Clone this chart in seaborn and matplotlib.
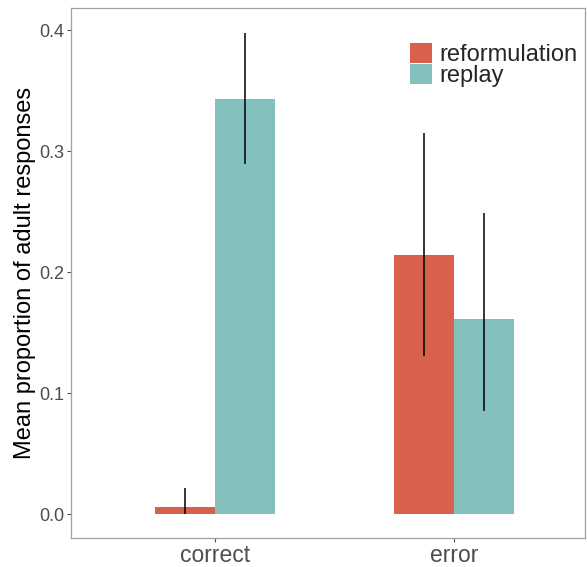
import matplotlib
matplotlib.use("Agg")
import matplotlib.pyplot as plt
import seaborn as sns
import pandas as pd

categories = ["correct", "error"]
series = ["reformulation", "replay"]
reformulation_mean = [0.006, 0.214]
replay_mean = [0.343, 0.161]
reformulation_lo = [0.0, 0.131]
reformulation_hi = [0.0215, 0.315]
replay_lo = [0.289, 0.085]
replay_hi = [0.3975, 0.249]
yticks = [0.0, 0.1, 0.2, 0.3, 0.4]

colors = {"reformulation": "#D8604C", "replay": "#84C0BE"}

sns.set_style("white")
plt.rcParams["font.family"] = ["Liberation Sans", "DejaVu Sans"]

df = pd.DataFrame({
    "category": categories * 2,
    "series": [series[0]] * 2 + [series[1]] * 2,
    "mean": reformulation_mean + replay_mean,
    "lo": reformulation_lo + replay_lo,
    "hi": reformulation_hi + replay_hi,
})

fig = plt.figure(figsize=(5.87, 5.67), dpi=100)
ax = fig.add_axes([71 / 587, 1 - 538 / 567, (585 - 71) / 587, (538 - 8) / 567])

sns.barplot(data=df, x="category", y="mean", hue="series", order=categories,
            hue_order=series, palette=colors, width=0.5, gap=0, errorbar=None,
            saturation=1, ax=ax, linewidth=0)

# error bars at bar centers
for s_i, s in enumerate(series):
    for c_i, c in enumerate(categories):
        row = df[(df.series == s) & (df.category == c)].iloc[0]
        p = ax.containers[s_i][c_i]
        xc = p.get_x() + p.get_width() / 2
        ax.vlines(xc, row.lo, row.hi, color="black", linewidth=1.1, zorder=5)

ax.set_xlim(-0.6025, 1.548)
ax.set_ylim(-0.0198, 0.4182)
ax.set_yticks(yticks)
ax.set_yticklabels([f"{v:.1f}" for v in yticks])
ax.set_xlabel("")
ax.set_ylabel("Mean proportion of adult responses", fontsize=17, color="black", labelpad=2)
ax.tick_params(axis="y", labelsize=13, colors="#4D4D4D", length=3, width=0.8, direction="out", left=True, pad=2)
ax.tick_params(axis="x", labelsize=16.5, colors="#4D4D4D", length=3, width=0.8, direction="out", bottom=True, pad=1)
for sp in ax.spines.values():
    sp.set_color("#A0A0A0")
    sp.set_linewidth(0.9)

leg = ax.legend(title=None, frameon=False, fontsize=17, loc="upper left",
                bbox_to_anchor=((410 - 71) / 514, (538 - 43) / 530),
                handlelength=0.95, handleheight=0.92,
                handletextpad=0.3, labelspacing=-0.08, borderaxespad=0, borderpad=0)

fig.savefig("out.png", dpi=100)
